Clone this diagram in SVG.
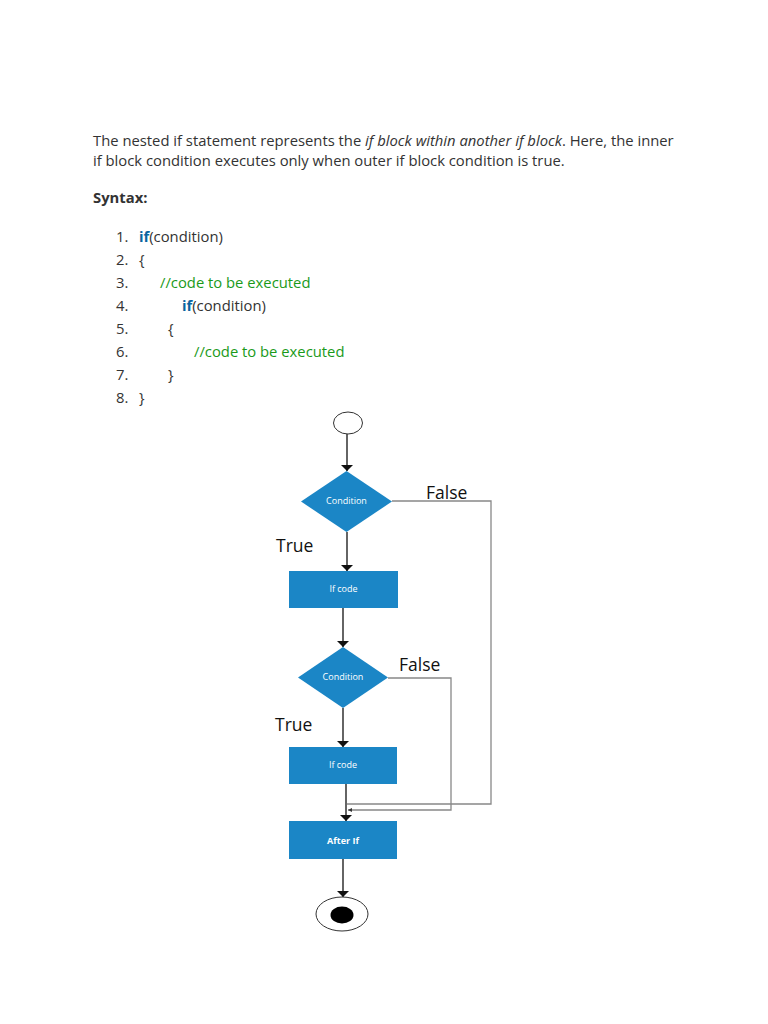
<svg xmlns="http://www.w3.org/2000/svg" width="768" height="1024" viewBox="0 0 768 1024">
<style>
.p{font-family:"Open Sans","Noto Sans",sans-serif;font-size:14.8px;fill:#333}
.c{font-family:"Open Sans","Noto Sans",sans-serif;font-size:14.8px;fill:#333}
.kw{fill:#0a64a0;font-weight:bold}
.cm{fill:#1a9a1a}
.lbl{font-family:"Open Sans","Liberation Sans",sans-serif;font-size:17.5px;fill:#111}
.nt{font-family:"Open Sans","Liberation Sans",sans-serif;font-size:9px;fill:#fff;text-anchor:middle}
.box{fill:#1b86c6}
.ln{stroke:#111;stroke-width:1.3;fill:none}
.gl{stroke:#888;stroke-width:1.3;fill:none}
</style>
<defs>
<marker id="ah" viewBox="0 0 10 10" refX="10" refY="5" markerWidth="6" markerHeight="12" markerUnits="userSpaceOnUse" orient="auto" preserveAspectRatio="none"><path d="M0,0 L10,5 L0,10 z" fill="#111"/></marker>
<marker id="sa" viewBox="0 0 10 10" refX="10" refY="5" markerWidth="4" markerHeight="4" markerUnits="userSpaceOnUse" orient="auto"><path d="M0,0 L10,5 L0,10 z" fill="#333"/></marker>
</defs>
<rect width="768" height="1024" fill="#fff"/>
<g id="intro">
<text class="p" x="93" y="146">The nested if statement represents the <tspan font-style="italic">if block within another if block</tspan>. Here, the inner</text>
<text class="p" x="93" y="166">if block condition executes only when outer if block condition is true.</text>
<text class="p" x="93" y="203" font-weight="bold">Syntax:</text>
</g>
<g id="code" class="c">
<text x="116" y="242">1.</text><text x="139" y="242"><tspan class="kw">if</tspan>(condition)</text>
<text x="116" y="265">2.</text><text x="139" y="265">{</text>
<text x="116" y="288">3.</text><text x="160" y="288" class="cm">//code to be executed</text>
<text x="116" y="311">4.</text><text x="182" y="311"><tspan class="kw">if</tspan>(condition)</text>
<text x="116" y="334">5.</text><text x="168" y="334">{</text>
<text x="116" y="357">6.</text><text x="194" y="357" class="cm">//code to be executed</text>
<text x="116" y="380">7.</text><text x="168" y="380">}</text>
<text x="116" y="403">8.</text><text x="139" y="403">}</text>
</g>
<g id="connectors">
<line class="ln" x1="347" y1="434" x2="347" y2="471" marker-end="url(#ah)"/>
<line class="ln" x1="347" y1="532" x2="347" y2="571" marker-end="url(#ah)"/>
<line class="ln" x1="343" y1="608" x2="343" y2="647" marker-end="url(#ah)"/>
<line class="ln" x1="343" y1="708" x2="343" y2="747" marker-end="url(#ah)"/>
<line class="ln" x1="346" y1="784" x2="346" y2="821" marker-end="url(#ah)"/>
<line class="ln" x1="343" y1="859" x2="343" y2="897" marker-end="url(#ah)"/>
<polyline class="gl" points="392,501 491,501 491,804 347,804"/>
<polyline class="gl" points="388,678 451,678 451,810 348,810" marker-end="url(#sa)"/>
<text class="lbl" x="426" y="499">False</text>
<text class="lbl" x="276" y="552">True</text>
<text class="lbl" x="399" y="671">False</text>
<text class="lbl" x="275" y="731">True</text>
</g>
<g id="start"><ellipse cx="348" cy="423" rx="14.5" ry="11" fill="#fff" stroke="#333" stroke-width="1"/></g>
<g id="cond1"><polygon class="box" points="346.5,471 392,501.5 346.5,532 301,501.5"/><text class="nt" x="346.5" y="504">Condition</text></g>
<g id="ifcode1"><rect class="box" x="289" y="571" width="109" height="37"/><text class="nt" x="343.5" y="592">If code</text></g>
<g id="cond2"><polygon class="box" points="343,647 388,677.5 343,708 298,677.5"/><text class="nt" x="343" y="680">Condition</text></g>
<g id="ifcode2"><rect class="box" x="289" y="747" width="108" height="37"/><text class="nt" x="343" y="768">If code</text></g>
<g id="afterif"><rect class="box" x="289" y="821" width="108" height="38"/><text class="nt" x="343" y="844" font-weight="bold">After If</text></g>
<g id="end"><ellipse cx="342" cy="914" rx="26" ry="17" fill="#fff" stroke="#333" stroke-width="1"/><ellipse cx="342" cy="915" rx="11.5" ry="8.5" fill="#000"/></g>
</svg>
